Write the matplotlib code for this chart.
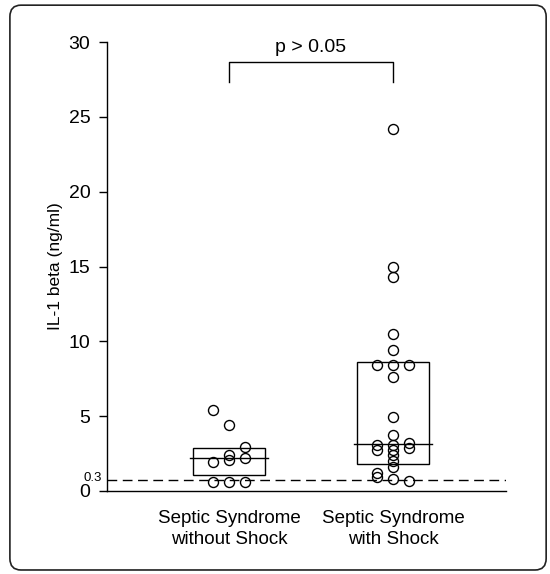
import numpy as np, matplotlib
matplotlib.use('Agg')
import matplotlib.pyplot as plt
import matplotlib.patches as mpatches

plt.rcParams.update({'font.family': ['Liberation Sans Narrow', 'Liberation Sans', 'DejaVu Sans'],
                     'font.size': 13})

groups = ['Septic Syndrome\nwithout Shock', 'Septic Syndrome\nwith Shock']
# IL-1 beta values (ng/ml)
no_shock = [5.4, 4.4, 2.93, 2.4, 2.2, 2.07, 1.93, 0.6, 0.6, 0.6]
no_shock_col = [-1, 0, 1, 0, 1, 0, -1, -1, 0, 1]
shock = [24.2, 14.95, 14.3, 10.5, 9.45, 8.4, 8.4, 8.4, 7.65, 4.93, 3.73,
         3.07, 3.07, 2.73, 2.73, 3.2, 2.87, 2.4, 2.0, 1.6, 1.2, 0.93, 0.8, 0.67]
shock_col = [0, 0, 0, 0, 0, -1, 0, 1, 0, 0, 0,
             -1, 0, -1, 0, 1, 1, 0, 0, 0, -1, -1, 0, 1]
q1 = [1.07, 1.8]
median = [2.2, 3.13]
q3 = [2.85, 8.6]
detect_label = '0.3'
detect_pos = 0.75
p_text = 'p > 0.05'

fig = plt.figure(figsize=(5.5, 5.74), dpi=100)
ax = fig.add_axes([0.1945, 0.1446, 0.7255, 0.782])
ax.set_xlim(0.256, 2.689); ax.set_ylim(0, 30)
for s in ['top', 'right']:
    ax.spines[s].set_visible(False)
ax.spines['left'].set_bounds(0, 30)
for s in ['left', 'bottom']:
    ax.spines[s].set_linewidth(1.0)

xs = [1, 2]
dx = 0.098
for x, lo, md, hi in zip(xs, q1, median, q3):
    ax.add_patch(mpatches.Rectangle((x - 0.22, lo), 0.44, hi - lo, fill=False, edgecolor='black', lw=1.0, zorder=2))
    ax.plot([x - 0.235, x + 0.235], [md, md], color='black', lw=1.0, zorder=2)

for x, vals, cols in [(1, no_shock, no_shock_col), (2, shock, shock_col)]:
    ax.plot([x + c * dx for c in cols], vals, 'o', ms=7.2, mfc='none', mec='black', mew=1.0, zorder=3, clip_on=False)

ax.plot([0.256, 2.689], [detect_pos, detect_pos], '--', color='black', lw=1.0, dashes=(7, 4), zorder=1)

ax.set_yticks([0, 5, 10, 15, 20, 25, 30])
ax.tick_params(axis='y', direction='out', length=6, width=1, labelsize=14, pad=6)
ax.set_xticks([])
ax.text(-0.012, detect_pos + 0.15, detect_label, transform=ax.get_yaxis_transform(), ha='right', va='center', fontsize=9.5)
for x, g in zip(xs, groups):
    ax.text(x, -1.3, g, ha='center', va='top', fontsize=13.5, linespacing=1.3)
ax.set_ylabel('IL-1 beta (ng/ml)', fontsize=12.5, labelpad=4)

ax.plot([1, 1, 2, 2], [27.35, 28.7, 28.7, 27.35], color='black', lw=1.0, clip_on=False)
ax.text(1.5, 29.1, p_text, ha='center', va='bottom', fontsize=14)

fig.patches.append(mpatches.FancyBboxPatch((0.018, 0.007), 0.975, 0.984, boxstyle='round,pad=0,rounding_size=0.02',
                                           transform=fig.transFigure, fill=False, edgecolor='#222222', lw=1.2))

plt.savefig('out.png', dpi=100)
